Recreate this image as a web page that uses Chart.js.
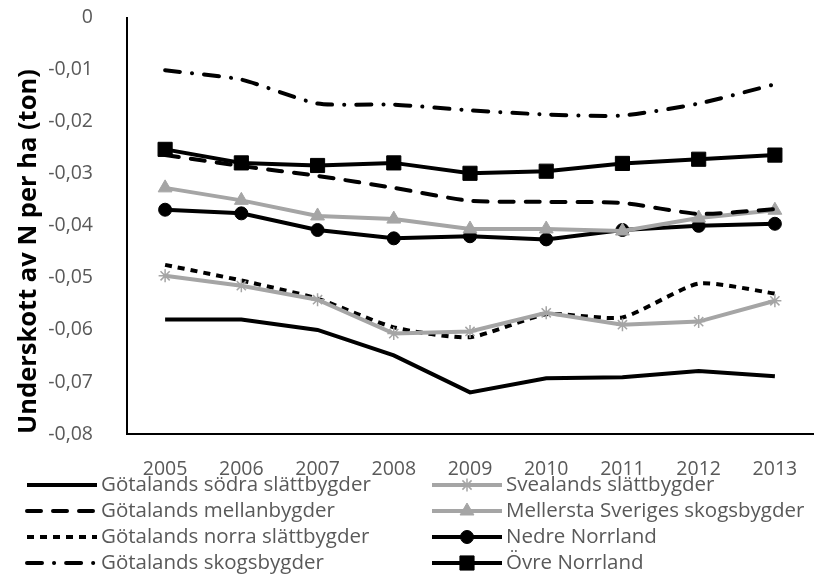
<!DOCTYPE html>
<html>
<head>
<meta charset="utf-8">
<title>Underskott av N per ha</title>
<script src="https://cdn.jsdelivr.net/npm/chart.js@4.4.0/dist/chart.umd.min.js"></script>
<style>
	html, body { margin: 0; padding: 0; background: #fff; overflow: hidden; }
	#wrap { width: 824px; height: 594px; margin-top: -20px; }
</style>
</head>
<body>
<div id="wrap"><canvas id="myChart"></canvas></div>
<script>
// data
const years = ['2005', '2006', '2007', '2008', '2009', '2010', '2011', '2012', '2013'];
const sodra = [-0.0580, -0.0580, -0.0600, -0.0649, -0.0720, -0.0693, -0.0691, -0.0679, -0.0689];
const svealand = [-0.0496, -0.0515, -0.0542, -0.0607, -0.0603, -0.0567, -0.0590, -0.0584, -0.0544];
const mellanbygder = [-0.0264, -0.0285, -0.0304, -0.0327, -0.0352, -0.0354, -0.0356, -0.0377, -0.0368];
const mellersta = [-0.0327, -0.0351, -0.0381, -0.0387, -0.0406, -0.0406, -0.0410, -0.0385, -0.0370];
const norra = [-0.0475, -0.0505, -0.0540, -0.0595, -0.0614, -0.0570, -0.0576, -0.0511, -0.0530];
const nedre = [-0.0369, -0.0376, -0.0408, -0.0424, -0.0420, -0.0426, -0.0408, -0.0400, -0.0396];
const skogsbygder = [-0.0101, -0.0119, -0.0165, -0.0167, -0.0178, -0.0186, -0.0188, -0.0165, -0.0128];
const ovre = [-0.0253, -0.0279, -0.0284, -0.0279, -0.0299, -0.0295, -0.0280, -0.0272, -0.0264];

const BLACK = '#000000';
const GRAY = '#a5a5a5';
const TEXT = '#595959';
const FONT = "'Open Sans', sans-serif";

function line(label, data, color, extra) {
	return Object.assign({
		label: label,
		data: data,
		borderColor: color,
		backgroundColor: color,
		borderWidth: 4,
		pointRadius: 0,
		pointStyle: false,
		tension: 0,
		fill: false
	}, extra || {});
}

// order = legend order (left column, right column, row by row)
const datasets = [
	line('Götalands södra slättbygder', sodra, BLACK),
	line('Svealands slättbygder', svealand, GRAY, { pointStyle: 'star', pointRadius: 6.5, pointBorderWidth: 1.5 }),
	line('Götalands mellanbygder', mellanbygder, BLACK, { borderDash: [14, 12], borderCapStyle: 'round', tension: 0.2 }),
	line('Mellersta Sveriges skogsbygder', mellersta, GRAY, { pointStyle: 'triangle', pointRadius: 8, pointBorderWidth: 1 }),
	line('Götalands norra slättbygder', norra, BLACK, { borderDash: [7, 6], tension: 0.2 }),
	line('Nedre Norrland', nedre, BLACK, { pointStyle: 'circle', pointRadius: 6.5, pointBorderWidth: 1 }),
	line('Götalands skogsbygder', skogsbygder, BLACK, { borderDash: [15, 12, 0.1, 12], borderCapStyle: 'round', tension: 0.2 }),
	line('Övre Norrland', ovre, BLACK, { pointStyle: 'rect', pointRadius: 10, pointBorderWidth: 1 })
];

// legend in two columns, drawn below the x axis (canvas is shifted up 20px)
const legendPlugin = {
	id: 'twoColLegend',
	afterDraw(chart) {
		const ctx = chart.ctx;
		chart.data.datasets.forEach((ds, i) => {
			const col = i % 2;
			const row = Math.floor(i / 2);
			const x0 = col === 0 ? 27 : 432;
			const x1 = x0 + 70;
			const y = 20 + 485 + row * 26;
			ctx.save();
			ctx.strokeStyle = ds.borderColor;
			ctx.lineWidth = ds.borderWidth;
			ctx.lineCap = ds.borderCapStyle || 'butt';
			ctx.setLineDash(ds.borderDash || []);
			ctx.beginPath();
			ctx.moveTo(x0, y);
			ctx.lineTo(x1, y);
			ctx.stroke();
			ctx.setLineDash([]);
			if (ds.pointStyle && Chart.helpers && Chart.helpers.drawPoint) {
				ctx.fillStyle = ds.backgroundColor;
				ctx.strokeStyle = ds.borderColor;
				ctx.lineWidth = ds.pointBorderWidth || 1;
				Chart.helpers.drawPoint(ctx, { pointStyle: ds.pointStyle, radius: ds.pointRadius, rotation: 0, borderWidth: ds.pointBorderWidth }, (x0 + x1) / 2, y);
			}
			ctx.fillStyle = TEXT;
			ctx.font = '20.5px ' + FONT;
			ctx.textBaseline = 'middle';
			ctx.textAlign = 'left';
			ctx.fillText(ds.label, x1 + 4, y);
			ctx.restore();
		});
	}
};

const ctx = document.getElementById('myChart').getContext('2d');
const chart = new Chart(ctx, {
	type: 'line',
	data: {
		labels: years,
		datasets: datasets
	},
	options: {
		responsive: true,
		maintainAspectRatio: false,
		animation: false,
		layout: { padding: { top: 0, right: 2, left: 0, bottom: 0 } },
		plugins: {
			legend: { display: false },
			tooltip: { enabled: false }
		},
		scales: {
			x: {
				offset: true,
				grid: { display: false },
				border: { display: true, color: BLACK, width: 2 },
				ticks: { color: TEXT, font: { family: FONT, size: 19.5 }, padding: 16, maxRotation: 0, autoSkip: false },
				afterFit(scale) { scale.height = 140; }
			},
			y: {
				min: -0.08,
				max: 0,
				grid: { display: false },
				border: { display: true, color: BLACK, width: 2 },
				ticks: {
					stepSize: 0.01,
					color: TEXT,
					font: { family: FONT, size: 19.5 },
					padding: 26,
					callback: v => Math.abs(v) < 1e-9 ? '0' : v.toFixed(2).replace('.', ',')
				},
				title: {
					display: true,
					text: 'Underskott av N per ha (ton)',
					align: 'start',
					color: BLACK,
					font: { family: FONT, size: 25.5, weight: 'bold' },
					padding: { top: 13, bottom: 0 }
				},
				afterFit(scale) { scale.width = 127; }
			}
		}
	},
	plugins: [legendPlugin]
});
</script>
</body>
</html>
